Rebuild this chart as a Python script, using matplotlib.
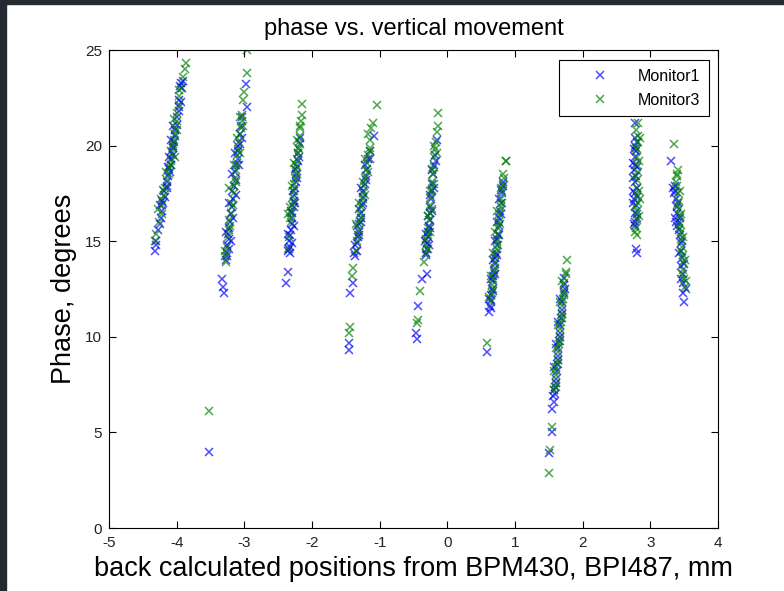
import numpy as np
import matplotlib as mpl
mpl.use('Agg')
import matplotlib.pyplot as plt
from matplotlib.patches import Rectangle

plt.rcParams['font.family'] = ['Liberation Sans', 'DejaVu Sans']
plt.rcParams['axes.unicode_minus'] = False

# Monitor1 (blue), grouped by cluster
m1_x = [-4.32, -4.31, -4.31, -4.25, -4.23, -4.21, -4.20, -4.17, -4.18, -4.15, -4.14, -4.13, -4.10, -4.12, -4.09,
        -4.08, -4.06, -4.08, -4.05, -4.04, -4.03, -4.02, -4.00, -3.99, -3.97, -3.96, -3.92, -3.93, -3.90,
        -3.52, -3.30, -3.31, -3.33, -3.27, -3.25, -3.25, -3.23, -3.24, -3.22, -3.21, -3.20, -3.18, -3.17, -3.18,
        -3.15, -3.13, -3.14, -3.12, -3.10, -3.09, -3.07, -3.06, -3.05, -3.03, -2.96, -2.98,
        -2.38, -2.36, -2.36, -2.33, -2.34, -2.32, -2.31, -2.30, -2.29, -2.29, -2.27, -2.27, -2.26, -2.25, -2.24,
        -2.23, -2.22, -2.21, -2.20, -2.17, -2.18,
        -1.45, -1.45, -1.44, -1.40, -1.36, -1.34, -1.33, -1.32, -1.31, -1.30, -1.28, -1.28, -1.26, -1.24, -1.24,
        -1.22, -1.20, -1.19, -1.17, -1.15, -1.09,
        -0.45, -0.46, -0.43, -0.37, -0.30, -0.31, -0.30, -0.30, -0.29, -0.28, -0.27, -0.26, -0.26, -0.25, -0.24,
        -0.23, -0.22, -0.21, -0.20, -0.18, -0.15,
        0.59, 0.62, 0.63, 0.64, 0.65, 0.66, 0.67, 0.68, 0.69, 0.70, 0.71, 0.72, 0.73, 0.74, 0.75, 0.76, 0.77,
        0.78, 0.79, 0.81, 0.82, 0.83,
        1.50, 1.54, 1.55, 1.57, 1.59, 1.59, 1.60, 1.62, 1.62, 1.63, 1.64, 1.65, 1.66, 1.67, 1.68, 1.69, 1.70,
        1.72, 1.72, 1.73,
        2.80, 2.79, 2.78, 2.80, 2.77, 2.79, 2.76, 2.78, 2.80, 2.77, 2.79, 2.76, 2.78, 2.74, 2.77, 2.79, 2.77,
        2.78, 2.77,
        3.50, 3.49, 3.48, 3.49, 3.46, 3.47, 3.45, 3.46, 3.44, 3.42, 3.43, 3.36, 3.40, 3.39, 3.38, 3.37, 3.36, 3.31]
m1_y = [14.5, 14.8, 15.0, 15.9, 16.2, 16.6, 17.0, 17.3, 17.6, 17.9, 18.1, 18.4, 18.6, 18.8, 19.0,
        19.3, 19.5, 19.7, 19.9, 20.2, 20.5, 20.8, 21.1, 21.5, 22.0, 22.4, 23.0, 23.3, 23.4,
        4.0, 12.3, 12.6, 13.0, 14.0, 14.4, 14.8, 15.1, 15.4, 15.7, 16.0, 16.4, 16.8, 17.2, 17.6,
        17.9, 18.2, 18.6, 19.0, 19.3, 19.7, 20.1, 20.6, 21.0, 21.5, 22.0, 23.2,
        12.8, 13.4, 14.5, 14.7, 15.0, 15.3, 15.6, 15.9, 16.2, 16.5, 16.8, 17.1, 17.4, 17.8, 18.1,
        18.5, 18.9, 19.2, 19.6, 20.1, 20.4,
        9.3, 9.7, 12.3, 12.8, 14.2, 14.5, 14.9, 15.2, 15.5, 15.9, 16.2, 16.5, 16.9, 17.3, 17.6,
        18.0, 18.4, 18.8, 19.3, 19.7, 20.5,
        9.9, 10.2, 11.6, 13.0, 13.3, 14.3, 14.6, 14.9, 15.2, 15.5, 15.8, 16.1, 16.5, 16.8, 17.2,
        17.6, 18.0, 18.5, 19.0, 19.5, 20.3,
        9.2, 11.3, 11.6, 11.9, 12.2, 12.5, 12.9, 13.2, 13.5, 13.8, 14.1, 14.4, 14.8, 15.1, 15.4, 15.8, 16.2,
        16.6, 17.0, 17.5, 17.9, 18.1,
        3.9, 5.0, 6.2, 6.6, 7.0, 7.4, 7.8, 8.2, 8.6, 9.0, 9.4, 9.8, 10.2, 10.6, 11.0, 11.4, 11.8,
        12.3, 12.7, 13.1,
        14.4, 14.6, 15.8, 16.2, 16.5, 16.9, 17.2, 17.5, 17.8, 18.1, 18.4, 18.7, 19.0, 19.1, 19.4, 19.7, 20.0,
        20.4, 21.2,
        11.8, 12.3, 12.8, 13.3, 13.7, 14.1, 14.5, 14.9, 15.3, 15.6, 16.0, 16.2, 16.5, 16.8, 17.2, 17.6, 17.9, 19.2]

# more Monitor1 points in the dense parts of each cluster
m1_extra_x = [-4.22, -4.15, -4.13, -4.11, -4.05, -4.09, -4.06, -3.96, -4.27, -4.24, -3.93, -3.95,
              -3.20, -3.27, -3.17, -3.22, -3.13, -3.18, -3.08, -3.14, -3.10, -3.03, -3.26, -3.22,
              -2.34, -2.30, -2.35, -2.27, -2.31, -2.25, -2.28, -2.22, -2.25, -2.19, -2.32,
              -1.36, -1.30, -1.34, -1.27, -1.30, -1.24, -1.27, -1.20, -1.22, -1.14, -1.38,
              -0.32, -0.27, -0.31, -0.25, -0.29, -0.23, -0.26, -0.20, -0.23, -0.17, -0.33,
              0.65, 0.61, 0.67, 0.64, 0.70, 0.67, 0.74, 0.70, 0.77, 0.73, 0.80, 0.76, 0.80,
              1.57, 1.61, 1.58, 1.64, 1.61, 1.67, 1.64, 1.70, 1.67, 1.74, 1.56,
              2.76, 2.81, 2.75, 2.81, 2.75, 2.80, 2.76, 2.81, 2.78, 2.74,
              3.35, 3.41, 3.44, 3.40, 3.47, 3.43, 3.50, 3.46, 3.52, 3.33, 3.38]
m1_extra_y = [17.1, 17.8, 18.9, 19.4, 20.0, 20.3, 21.0, 21.8, 15.6, 16.9, 22.3, 23.1,
              15.0, 15.5, 16.2, 17.0, 17.4, 18.5, 19.0, 19.6, 20.0, 20.4, 14.2, 14.6,
              14.6, 14.9, 15.4, 15.8, 16.6, 17.0, 17.6, 18.3, 18.8, 19.4, 14.4,
              14.8, 15.3, 15.8, 16.0, 16.7, 17.0, 17.8, 18.2, 19.0, 19.3, 14.4,
              14.4, 14.8, 15.4, 15.7, 16.3, 16.6, 17.4, 17.8, 18.7, 19.2, 15.0,
              11.5, 12.0, 12.4, 13.0, 13.3, 14.0, 14.3, 15.0, 15.3, 16.0, 16.4, 17.2, 17.7,
              7.2, 7.6, 8.4, 8.8, 9.6, 10.0, 10.8, 11.2, 12.0, 12.5, 6.9,
              15.9, 16.4, 17.6, 17.3, 18.3, 18.9, 19.8, 20.2, 16.0, 17.0,
              17.5, 17.0, 16.2, 15.8, 15.0, 14.4, 13.8, 13.0, 12.5, 17.8, 16.0]

# Monitor3 (green), grouped by cluster
m3_x = [-4.32, -4.31, -4.26, -4.22, -4.21, -4.18, -4.17, -4.14, -4.12, -4.11, -4.08, -4.07, -4.06, -4.04,
        -4.02, -4.02, -4.00, -3.99, -3.97, -3.96, -3.94, -3.90, -3.88, -3.86,
        -3.52, -3.27, -3.29, -3.25, -3.24, -3.22, -3.22, -3.19, -3.19, -3.16, -3.15, -3.14, -3.13, -3.11,
        -3.11, -3.09, -3.08, -3.06, -3.05, -3.04, -3.03, -3.02, -3.01, -2.96, -2.96,
        -2.36, -2.34, -2.33, -2.31, -2.29, -2.28, -2.27, -2.26, -2.25, -2.24, -2.23, -2.22, -2.21, -2.20,
        -2.19, -2.18, -2.17, -2.16, -2.15, -2.15,
        -1.46, -1.44, -1.41, -1.39, -1.35, -1.33, -1.31, -1.29, -1.29, -1.27, -1.25, -1.25, -1.23, -1.21,
        -1.20, -1.18, -1.17, -1.15, -1.14, -1.13, -1.10, -1.04,
        -0.45, -0.44, -0.41, -0.34, -0.31, -0.31, -0.29, -0.28, -0.27, -0.25, -0.25, -0.24, -0.23, -0.22,
        -0.21, -0.20, -0.19, -0.18, -0.17, -0.15, -0.14, -0.14,
        0.59, 0.64, 0.66, 0.66, 0.68, 0.69, 0.70, 0.71, 0.73, 0.73, 0.75, 0.75, 0.77, 0.77, 0.79, 0.80,
        0.81, 0.82, 0.83, 0.86, 0.87,
        1.50, 1.52, 1.55, 1.58, 1.60, 1.61, 1.61, 1.63, 1.64, 1.65, 1.66, 1.66, 1.68, 1.69, 1.70, 1.71,
        1.72, 1.73, 1.75, 1.77,
        2.81, 2.79, 2.81, 2.80, 2.82, 2.80, 2.81, 2.80, 2.82, 2.80, 2.81, 2.80, 2.82, 2.82, 2.82,
        3.51, 3.50, 3.49, 3.48, 3.49, 3.47, 3.46, 3.46, 3.44, 3.44, 3.43, 3.42, 3.41, 3.40, 3.40, 3.41, 3.35]
m3_y = [15.0, 15.4, 16.0, 16.4, 16.9, 17.4, 17.8, 18.2, 18.5, 18.9, 19.2, 19.6, 19.9, 20.3,
        20.6, 20.9, 21.3, 21.7, 22.1, 22.6, 23.0, 23.6, 24.0, 24.3,
        6.1, 13.9, 14.2, 14.7, 15.2, 15.6, 16.1, 16.5, 17.0, 17.5, 17.9, 18.3, 18.7, 19.1,
        19.5, 19.8, 20.2, 20.6, 20.9, 21.3, 21.6, 22.4, 22.8, 23.8, 25.0,
        14.6, 15.2, 16.2, 16.5, 16.9, 17.3, 17.6, 18.0, 18.3, 18.7, 19.0, 19.3, 19.6, 19.9,
        20.2, 20.5, 20.9, 21.3, 21.6, 22.2,
        10.2, 10.5, 13.2, 13.6, 14.5, 15.0, 15.6, 16.0, 16.4, 16.8, 17.2, 17.5, 17.9, 18.3,
        18.7, 19.1, 19.5, 19.9, 20.3, 20.9, 21.2, 22.1,
        10.7, 10.9, 12.4, 13.9, 14.4, 14.8, 15.3, 15.7, 16.1, 16.5, 16.9, 17.3, 17.7, 18.1,
        18.5, 18.9, 19.4, 19.8, 20.2, 20.7, 21.0, 21.7,
        9.7, 11.8, 12.3, 12.7, 13.0, 13.4, 13.9, 14.3, 14.6, 15.0, 15.3, 15.7, 16.0, 16.4, 16.8, 17.2,
        17.6, 18.0, 18.5, 19.2, 19.2,
        2.9, 4.1, 5.3, 7.2, 7.6, 8.0, 8.4, 8.8, 9.2, 9.6, 10.0, 10.4, 10.8, 11.2, 11.6, 12.0,
        12.4, 12.8, 13.3, 14.0,
        15.3, 15.7, 16.1, 16.6, 17.0, 17.4, 17.8, 18.2, 18.6, 19.0, 19.4, 19.8, 20.2, 20.5, 21.2,
        12.6, 13.0, 13.5, 13.9, 14.3, 14.7, 15.1, 15.5, 15.9, 16.3, 16.7, 17.1, 17.5, 17.9, 18.4, 18.7, 20.1]

# more Monitor3 points in the dense parts of each cluster
m3_extra_x = [-4.20, -4.16, -4.09, -4.03, -4.05, -4.00, -4.04, -3.97, -4.28, -4.23,
              -3.21, -3.17, -3.23, -3.12, -3.15, -3.07, -3.11, -3.02, -3.06, -3.28,
              -2.31, -2.35, -2.26, -2.30, -2.22, -2.26, -2.19, -2.22, -2.17, -2.33,
              -1.32, -1.35, -1.27, -1.30, -1.22, -1.25, -1.17, -1.21, -1.14, -1.17,
              -0.28, -0.32, -0.25, -0.29, -0.22, -0.26, -0.19, -0.23, -0.16, -0.20,
              0.62, 0.68, 0.65, 0.71, 0.68, 0.75, 0.71, 0.78, 0.74, 0.81, 0.79, 0.84,
              1.60, 1.58, 1.63, 1.61, 1.67, 1.64, 1.70, 1.67, 1.73, 1.70, 1.76,
              2.78, 2.83, 2.78, 2.83, 2.78, 2.83, 2.79, 2.84, 2.79, 2.84,
              3.38, 3.44, 3.40, 3.46, 3.42, 3.48, 3.45, 3.51, 3.47, 3.52, 3.39]
m3_extra_y = [17.7, 18.6, 19.0, 19.4, 20.1, 20.8, 21.4, 22.9, 16.7, 17.2,
              15.8, 16.9, 17.8, 18.1, 19.0, 19.6, 20.4, 21.0, 21.5, 14.5,
              16.0, 16.4, 17.0, 17.9, 18.5, 19.1, 19.8, 20.3, 21.0, 16.8,
              15.3, 15.9, 16.2, 17.0, 17.4, 18.1, 18.6, 19.3, 19.7, 20.6,
              14.6, 15.1, 15.5, 16.3, 16.7, 17.6, 18.0, 18.8, 19.6, 20.0,
              12.1, 12.5, 13.2, 13.6, 14.4, 14.8, 15.5, 15.9, 16.6, 17.0, 17.8, 18.3,
              7.4, 8.2, 8.6, 9.4, 9.8, 10.6, 11.0, 11.8, 12.2, 12.9, 13.4,
              15.5, 16.3, 16.8, 17.6, 18.4, 19.2, 19.9, 20.4, 20.8, 17.2,
              18.1, 17.6, 16.9, 16.4, 15.7, 15.2, 14.5, 14.0, 13.3, 12.9, 18.5]

fig = plt.figure(figsize=(7.84, 5.91), dpi=100)
ax = fig.add_axes([109/784, 63/591, 609/784, 478/591])

ax.plot(m1_x + m1_extra_x, m1_y + m1_extra_y, 'x', color=(0, 0, 1), ms=6, mew=1.1, alpha=0.7,
        label='Monitor1')
ax.plot(m3_x + m3_extra_x, m3_y + m3_extra_y, 'x', color=(0, 0.5, 0), ms=6, mew=1.1, alpha=0.7,
        label='Monitor3')

ax.set_xlim(-5, 4)
ax.set_ylim(0, 25)
ax.set_xticks(np.arange(-5, 5, 1))
ax.set_yticks(np.arange(0, 26, 5))
ax.tick_params(direction='in', top=True, right=True, length=5, labelsize=11, labelcolor='#222222')
ax.tick_params(axis='x', pad=6)
ax.tick_params(axis='y', pad=5)
for s in ax.spines.values():
    s.set_linewidth(0.8)

ax.set_title('phase vs. vertical movement', fontsize=17, pad=11)
ax.set_xlabel('back calculated positions from BPM430, BPI487, mm', fontsize=19.5, labelpad=4)
ax.set_ylabel('Phase, degrees', fontsize=19.5, labelpad=6)

leg = ax.legend(loc='upper right', bbox_to_anchor=(709/784, 531/591), bbox_transform=fig.transFigure,
                borderaxespad=0, fancybox=False, framealpha=1, edgecolor='black', fontsize=11.5,
                handlelength=4, handletextpad=0.4, borderpad=0.55, labelspacing=0.55)
leg.get_frame().set_linewidth(0.8)

# dark strip along top and left edge of the screenshot
fig.add_artist(Rectangle((0, 1 - 4/591), 1, 4/591, transform=fig.transFigure, color='#252a31', zorder=10))
fig.add_artist(Rectangle((0, 0), 6/784, 1, transform=fig.transFigure, color='#252a31', zorder=10))

fig.savefig('out.png', dpi=100)
